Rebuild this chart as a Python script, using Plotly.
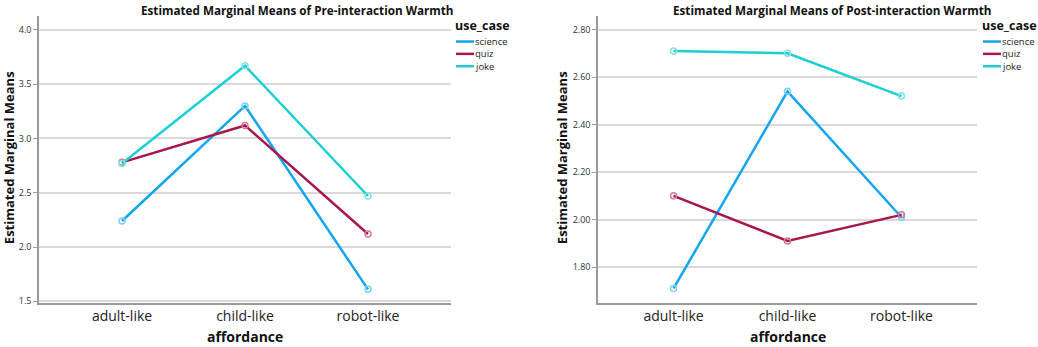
import plotly.graph_objects as go

affordance = ["adult-like", "child-like", "robot-like"]
use_cases = ["science", "quiz", "joke"]

pre_science = [2.24, 3.30, 1.61]
pre_quiz = [2.78, 3.12, 2.12]
pre_joke = [2.77, 3.67, 2.47]

post_science = [1.71, 2.54, 2.01]
post_quiz = [2.10, 1.91, 2.02]
post_joke = [2.71, 2.70, 2.52]

pre_ticks = [1.5, 2.0, 2.5, 3.0, 3.5, 4.0]
pre_ticklabels = ["1.5", "2.0", "2.5", "3.0", "3.5", "4.0"]
post_ticks = [1.8, 2.0, 2.2, 2.4, 2.6, 2.8]
post_ticklabels = ["1.80", "2.00", "2.20", "2.40", "2.60", "2.80"]

colors = {"science": "#12A6EE", "quiz": "#A8164E", "joke": "#1CCFD2"}
marker_colors = {"science": "#7ED0F5", "quiz": "#D07A98", "joke": "#7EE3E5"}

W, H = 1038, 347
FONT = "Open Sans"

def px(x):
    return x / W

def py(y):
    return 1 - y / H

fig = go.Figure()

series_pre = {"science": pre_science, "quiz": pre_quiz, "joke": pre_joke}
series_post = {"science": post_science, "quiz": post_quiz, "joke": post_joke}

for uc in use_cases:
    fig.add_trace(go.Scatter(
        x=affordance, y=series_pre[uc], name=uc, mode="lines+markers",
        line=dict(color=colors[uc], width=2.5),
        marker=dict(symbol="circle-open", size=6, color=marker_colors[uc], line=dict(width=1.5)),
        xaxis="x", yaxis="y", showlegend=False))
for uc in use_cases:
    fig.add_trace(go.Scatter(
        x=affordance, y=series_post[uc], name=uc, mode="lines+markers",
        line=dict(color=colors[uc], width=2.5),
        marker=dict(symbol="circle-open", size=6, color=marker_colors[uc], line=dict(width=1.5)),
        xaxis="x2", yaxis="y2", showlegend=False))

yaxis_common = dict(
    showline=True, linecolor="#9a9a9a", linewidth=1.5,
    ticks="outside", ticklen=4, tickcolor="#9a9a9a",
    tickfont=dict(family=FONT, size=9, color="#333333"),
    zeroline=False, showgrid=True, gridcolor="#d9d9d9", gridwidth=1.5,
)
xaxis_common = dict(
    showline=True, linecolor="#9a9a9a", linewidth=1.5,
    ticks="", showgrid=False, zeroline=False,
    tickfont=dict(family=FONT, size=14, color="#222222"),
    ticklabelstandoff=-1,
)

shapes = []
annotations = [
    dict(text="<b>Estimated Marginal Means of Pre-interaction Warmth</b>", x=px(297), y=py(0),
         xref="paper", yref="paper", showarrow=False, xanchor="center", yanchor="top",
         font=dict(family=FONT, size=11.7, color="#111111")),
    dict(text="<b>Estimated Marginal Means of Post-interaction Warmth</b>", x=px(832), y=py(0),
         xref="paper", yref="paper", showarrow=False, xanchor="center", yanchor="top",
         font=dict(family=FONT, size=11.7, color="#111111")),
    dict(text="<b>Estimated Marginal Means</b>", x=px(9), y=py(160), textangle=-90,
         xref="paper", yref="paper", showarrow=False, xanchor="center", yanchor="middle",
         font=dict(family=FONT, size=13, color="#111111")),
    dict(text="<b>Estimated Marginal Means</b>", x=px(562), y=py(160), textangle=-90,
         xref="paper", yref="paper", showarrow=False, xanchor="center", yanchor="middle",
         font=dict(family=FONT, size=13, color="#111111")),
    dict(text="<b>affordance</b>", x=px(245), y=py(340),
         xref="paper", yref="paper", showarrow=False, xanchor="center", yanchor="middle",
         font=dict(family=FONT, size=14, color="#111111")),
    dict(text="<b>affordance</b>", x=px(788), y=py(340),
         xref="paper", yref="paper", showarrow=False, xanchor="center", yanchor="middle",
         font=dict(family=FONT, size=14, color="#111111")),
]

# manual legends (compact, line-only like the reference)
legend_item_y = [42, 54.5, 67]
for lx in (456, 983):
    annotations.append(dict(text="<b>use_case</b>", x=px(lx - 2), y=py(26), xref="paper", yref="paper",
                            showarrow=False, xanchor="left", yanchor="middle", borderpad=0,
                            font=dict(family=FONT, size=12.5, color="#111111")))
    for uc, iy in zip(use_cases, legend_item_y):
        shapes.append(dict(type="line", xref="paper", yref="paper",
                           x0=px(lx), x1=px(lx + 18), y0=py(iy), y1=py(iy),
                           line=dict(color=colors[uc], width=2.5)))
        annotations.append(dict(text=uc, x=px(lx + 18), y=py(iy), xref="paper", yref="paper",
                                showarrow=False, xanchor="left", yanchor="middle", borderpad=0,
                                font=dict(family=FONT, size=9.5, color="#222222")))

fig.update_layout(
    width=W, height=H,
    margin=dict(l=0, r=0, t=0, b=0),
    paper_bgcolor="white", plot_bgcolor="white",
    showlegend=False,
    xaxis=dict(domain=[px(39), px(451)], anchor="y", range=[-0.675, 2.675], **xaxis_common),
    yaxis=dict(domain=[py(307), py(16)], anchor="x", range=[1.48, 4.13],
               tickvals=pre_ticks, ticktext=pre_ticklabels, **yaxis_common),
    xaxis2=dict(domain=[px(598), px(977)], anchor="y2", range=[-0.663, 2.663], **xaxis_common),
    yaxis2=dict(domain=[py(307), py(16)], anchor="x2", range=[1.647, 2.858],
                tickvals=post_ticks, ticktext=post_ticklabels, **yaxis_common),
    shapes=shapes,
    annotations=annotations,
)

fig.write_html("out.html",
               config={"displayModeBar": False},
               post_script="document.body.style.margin='0';document.body.style.padding='0';")
